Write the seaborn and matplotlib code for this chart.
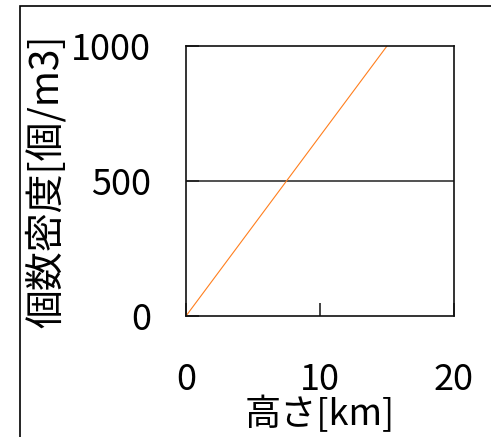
import matplotlib
matplotlib.use("Agg")
import matplotlib.pyplot as plt
from matplotlib.patches import Rectangle
import seaborn as sns
import pandas as pd

# Particle number density versus altitude
height_km = [0, 15]
density = [0, 1000]
x_ticks = [0, 10, 20]
y_ticks = [0, 500, 1000]

sns.set_style("ticks")
plt.rcParams["font.family"] = ["Noto Sans CJK JP", "DejaVu Sans"]
plt.rcParams["text.color"] = "black"
plt.rcParams["xtick.labelcolor"] = "black"
plt.rcParams["ytick.labelcolor"] = "black"

df = pd.DataFrame({"height": height_km, "density": density})

fig = plt.figure(figsize=(4.91, 4.37), dpi=100)
ax = fig.add_axes([186 / 491, 1 - 316 / 437, (454 - 186) / 491, (316 - 46) / 437])

sns.lineplot(data=df, x="height", y="density", ax=ax, color="#ff7f1e", linewidth=0.8)
ax.axhline(500, color="#222222", linewidth=1.1, zorder=1)

ax.set_xlim(0, 20)
ax.set_ylim(0, 1000)
ax.set_xticks(x_ticks)
ax.set_yticks(y_ticks)
ax.tick_params(axis="both", direction="in", length=9.5, width=1.2,
               labelsize=26, color="#222222", labelcolor="black")
ax.tick_params(axis="x", pad=33)
ax.tick_params(axis="y", pad=25)
for s in ax.spines.values():
    s.set_visible(True)
    s.set_linewidth(1.2)
    s.set_color("#111111")

ax.set_xlabel("高さ[km]", fontsize=26, color="black", va="center")
ax.set_ylabel("個数密度[個/m3]", fontsize=28, color="black", va="center")
ax.xaxis.set_label_coords(0.5, -0.365)
ax.yaxis.set_label_coords(-0.52, 0.5)

# Outer frame around the figure area
fig.add_artist(Rectangle((20 / 491, -0.2), 2.0, 1.2 - 6 / 437,
                         transform=fig.transFigure, fill=False,
                         edgecolor="black", linewidth=1.2))

fig.savefig("out.png", dpi=100)
